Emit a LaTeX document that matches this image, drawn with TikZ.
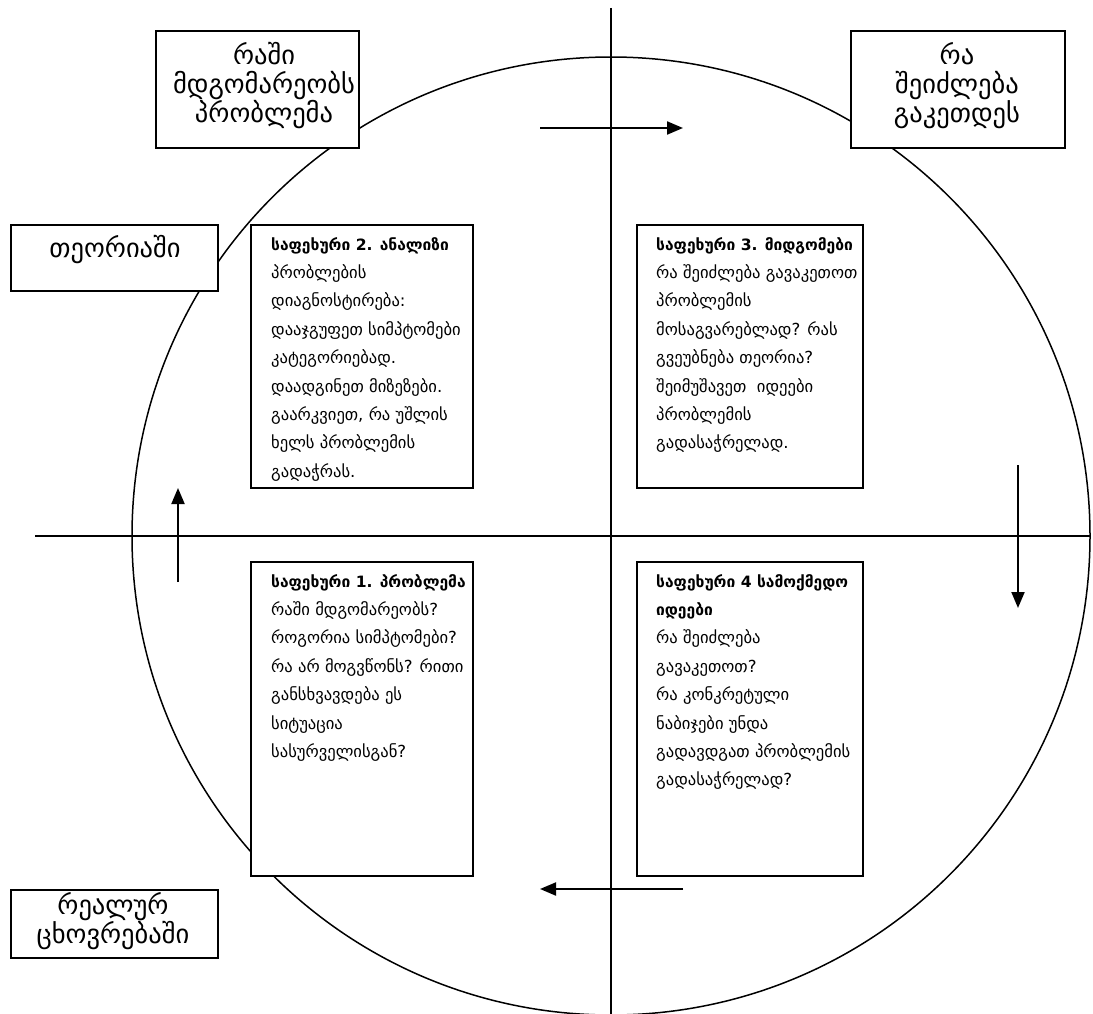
\documentclass[tikz,border=0pt]{standalone}
\usepackage{fontspec}
\setmainfont{DejaVu Sans}
\usetikzlibrary{arrows.meta}
\newcommand{\steptitle}[1]{{\fontsize{15.6}{28.4}\selectfont\bfseries #1}}
\tikzset{
  frame/.style={draw, line width=2pt, fill=white, inner sep=0pt, anchor=north west},
  body/.style={anchor=north west, align=left, inner sep=0pt, font=\fontsize{16.6}{28.4}\selectfont},
  head/.style={align=center, inner sep=0pt, font=\fontsize{26.5}{29}\selectfont},
  flow/.style={line width=2pt, -{Triangle[length=16pt,width=13pt]}},
  axis/.style={line width=1.5pt}
}
\begin{document}
\begin{tikzpicture}[x=1pt,y=-1pt]
\useasboundingbox (0,0) rectangle (1093,1014);
% circle and axes
\node[draw, circle, line width=1.5pt, minimum size=958pt, inner sep=0pt] (circ) at (611,536) {};
\coordinate (vt) at (611,8);
\coordinate (vb) at (611,1014);
\coordinate (hl) at (35,536);
\coordinate (hr) at (1090,536);
\draw[axis] (vt) -- (vb);
\draw[axis] (hl) -- (hr);
% corner boxes
\node[frame, minimum width=203pt, minimum height=117pt] (b1) at (155,30) {};
\node[head] (t1) at (264,86) {რაში\\მდგომარეობს\\პრობლემა};
\node[frame, minimum width=214pt, minimum height=117pt] (b2) at (850,30) {};
\node[head] (t2) at (957,86) {რა\\შეიძლება\\გაკეთდეს};
\node[frame, minimum width=207pt, minimum height=66pt] (b3) at (10,224) {};
\node[head] (t3) at (115,250) {თეორიაში};
\node[frame, minimum width=207pt, minimum height=68pt] (b4) at (10,889) {};
\node[head] (t4) at (113,921) {რეალურ\\ცხოვრებაში};
% step boxes
\node[frame, minimum width=222pt, minimum height=263pt] (s2) at (250,224) {};
\node[body] (s2t) at (271,237) {\steptitle{საფეხური 2. ანალიზი}\\პრობლების\\დიაგნოსტირება:\\დააჯგუფეთ სიმპტომები\\კატეგორიებად.\\დაადგინეთ მიზეზები.\\გაარკვიეთ, რა უშლის\\ხელს პრობლემის\\გადაჭრას.};
\node[frame, minimum width=226pt, minimum height=263pt] (s3) at (636,224) {};
\node[body] (s3t) at (656,237) {\steptitle{საფეხური 3. მიდგომები}\\რა შეიძლება გავაკეთოთ\\პრობლემის\\მოსაგვარებლად? რას\\გვეუბნება თეორია?\\შეიმუშავეთ \ იდეები\\პრობლემის\\გადასაჭრელად.};
\node[frame, minimum width=222pt, minimum height=314pt] (s1) at (250,561) {};
\node[body] (s1t) at (271,574) {\steptitle{საფეხური 1. პრობლემა}\\რაში მდგომარეობს?\\როგორია სიმპტომები?\\რა არ მოგვწონს? რითი\\განსხვავდება ეს\\სიტუაცია\\სასურველისგან?};
\node[frame, minimum width=226pt, minimum height=314pt] (s4) at (636,561) {};
\node[body] (s4t) at (656,574) {\steptitle{საფეხური 4 სამოქმედო}\\\steptitle{იდეები}\\რა შეიძლება\\გავაკეთოთ?\\რა კონკრეტული\\ნაბიჯები უნდა\\გადავდგათ პრობლემის\\გადასაჭრელად?};
% flow arrows
\coordinate (a1s) at (540,128); \coordinate (a1e) at (683,128);
\coordinate (a2s) at (1018,465); \coordinate (a2e) at (1018,608);
\coordinate (a3s) at (683,889); \coordinate (a3e) at (540,889);
\coordinate (a4s) at (178,582); \coordinate (a4e) at (178,488);
\draw[flow] (a1s) -- (a1e);
\draw[flow] (a2s) -- (a2e);
\draw[flow] (a3s) -- (a3e);
\draw[flow] (a4s) -- (a4e);
\end{tikzpicture}
\end{document}
